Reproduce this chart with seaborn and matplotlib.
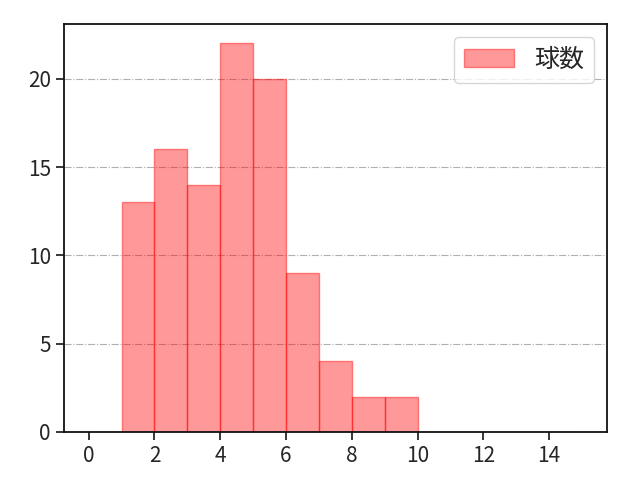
import numpy as np
import pandas as pd
import seaborn as sns
import matplotlib.pyplot as plt

# pitch count histogram (bin left edge -> count)
bin_left = [0, 1, 2, 3, 4, 5, 6, 7, 8, 9, 10, 11, 12, 13, 14]
counts = [0, 13, 16, 14, 22, 20, 9, 4, 2, 2, 0, 0, 0, 0, 0]
label = '球数'

sns.set_style('ticks')
plt.rcParams['font.family'] = ['Noto Sans CJK JP', 'DejaVu Sans']
plt.rcParams['font.size'] = 15

df = pd.DataFrame({'x': np.array(bin_left) + 0.5, 'w': counts})

fig, ax = plt.subplots(figsize=(6.4, 4.8), dpi=100)
fig.subplots_adjust(left=0.1, right=0.948, top=0.95, bottom=0.1)
sns.histplot(data=df, x='x', weights='w', bins=15, binrange=(0, 15), ax=ax,
             color='red', alpha=0.4, edgecolor=(1, 0, 0, 0.45), linewidth=1,
             label=label)
ax.set_xlabel('')
ax.set_ylabel('')
ax.set_xticks(np.arange(0, 16, 2))
ax.yaxis.grid(True, linestyle='-.', color='#b0b0b0', linewidth=0.8)
ax.set_axisbelow(True)
for s in ax.spines.values():
    s.set_linewidth(1.3)
    s.set_color('#111111')
ax.tick_params(width=1.3, length=6, labelsize=15)
ax.legend(loc='upper right', fontsize=18)
plt.savefig('out.png')
